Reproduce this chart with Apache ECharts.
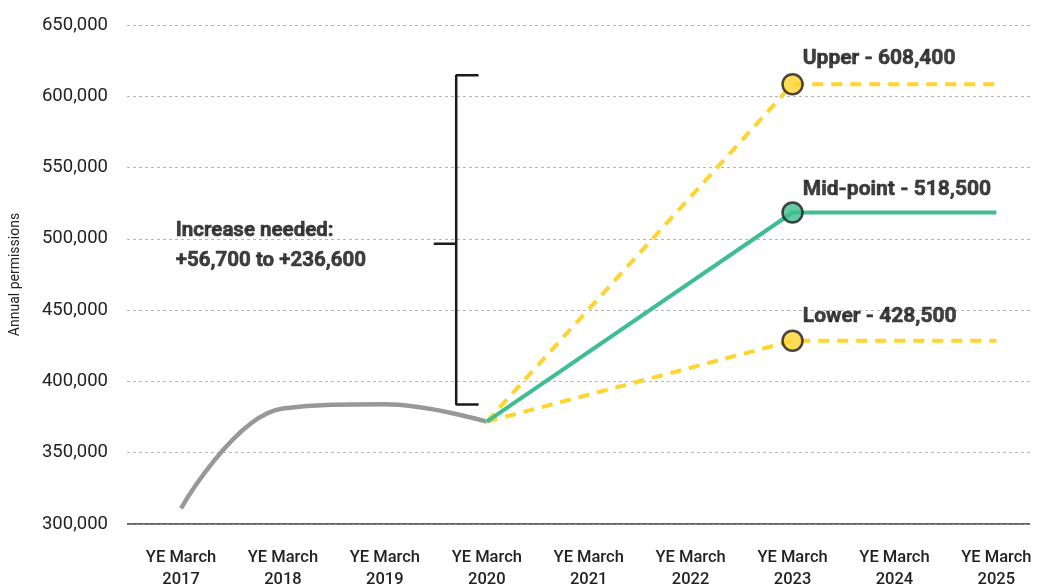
<!DOCTYPE html>
<html><head><meta charset="utf-8">
<script src="https://cdn.jsdelivr.net/npm/echarts@6/dist/echarts.min.js"></script>
<style>html,body{margin:0;padding:0;background:#fff}#c{width:1037px;height:585px}</style>
</head><body><div id="c"></div>
<script>
var categories = ['YE March\n2017','YE March\n2018','YE March\n2019','YE March\n2020','YE March\n2021','YE March\n2022','YE March\n2023','YE March\n2024','YE March\n2025'];
var yTicks = [300000,350000,400000,450000,500000,550000,600000,650000];
var historical = [[0,311000],[1,381000],[2,384000],[3,371800]];
var upper = [[3,371800],[6,608400],[8,608400]];
var mid = [[3,371800],[6,518500],[8,518500]];
var lower = [[3,371800],[6,428500],[8,428500]];
var endpoints = {upper:[6,608400], mid:[6,518500], lower:[6,428500]};
var endLabels = {upper:'Upper - 608,400', mid:'Mid-point - 518,500', lower:'Lower - 428,500'};
var bracketX = [2.48, 2.70, 2.92];
var bracketY = {top:614700, mid:496500, bottom:383900};
var annotation = 'Increase needed:\n+56,700 to +236,600';

var YEL = '#FFD42F', GRN = '#3EBE91', GRY = '#989899', INK = '#1d1a1b';
var chart = echarts.init(document.getElementById('c'));
var boldTxt = {fontFamily:'Roboto', fontWeight:'bold', fontSize:21, color:'#111', textBorderColor:'#111', textBorderWidth:0.6};
function endPoint(key, color, dy){
  return {type:'scatter', data:[endpoints[key]], symbolSize:20, z:10,
    itemStyle:{color:color, borderColor:INK, borderWidth:2.5},
    label:{show:true, formatter:endLabels[key], position:'right', offset:[-6, dy], ...boldTxt}};
}
chart.setOption({
  animation:false,
  grid:{left:127, right:7, top:25, bottom:61, outerBoundsMode:'none', containLabel:false},
  xAxis:{type:'value', min:-0.53, max:8.33, interval:1,
    axisLine:{show:false}, axisTick:{show:false}, splitLine:{show:false},
    axisLabel:{fontFamily:'Roboto', fontSize:16.5, fontWeight:500, color:'#222', lineHeight:22, margin:23,
      customValues:[0,1,2,3,4,5,6,7,8],
      formatter:function(v){var i=Math.round(v); return (i>=0&&i<categories.length&&Math.abs(v-i)<1e-6)?categories[i]:'';}}},
  yAxis:{type:'value', min:300000, max:650000, interval:50000,
    name:'Annual permissions', nameLocation:'middle', nameGap:105, nameRotate:90,
    nameTextStyle:{fontFamily:'Roboto', fontSize:14, color:'#222'},
    axisLine:{show:false}, axisTick:{show:false},
    axisLabel:{fontFamily:'Roboto', fontSize:18.5, color:'#222', margin:19,
      formatter:function(v){return v.toLocaleString('en-US');}},
    splitLine:{lineStyle:{color:'#b5b5b5', type:[3,3], width:1}}},
  series:[
    {type:'line', data:[[-0.53,300000],[8.33,300000]], symbol:'none', silent:true,
      lineStyle:{color:'#333', width:1.5}, z:1},
    {type:'line', data:historical, smooth:0.4, symbol:'none', lineStyle:{color:GRY, width:4.5}, z:3},
    {type:'line', data:upper, symbol:'none', lineStyle:{color:YEL, width:4, type:[11,8]}, z:4},
    {type:'line', data:lower, symbol:'none', lineStyle:{color:YEL, width:4, type:[11,8]}, z:4},
    {type:'line', data:mid, symbol:'none', lineStyle:{color:GRN, width:4}, z:5},
    endPoint('upper', YEL, -26), endPoint('mid', GRN, -23), endPoint('lower', YEL, -24),
    {type:'line', symbol:'none', lineStyle:{color:INK, width:2.5}, z:6,
      data:[[bracketX[2],bracketY.top],[bracketX[1],bracketY.top],[bracketX[1],bracketY.bottom],[bracketX[2],bracketY.bottom]]},
    {type:'line', symbol:'none', lineStyle:{color:INK, width:2.5}, z:6,
      data:[[bracketX[0],bracketY.mid],[bracketX[1],bracketY.mid]]},
    {type:'scatter', symbolSize:0, data:[[-0.1,495400]], silent:true,
      label:{show:true, formatter:annotation, position:'right', align:'left', lineHeight:30, ...boldTxt, fontSize:20.5}}
  ]
});
</script></body></html>
